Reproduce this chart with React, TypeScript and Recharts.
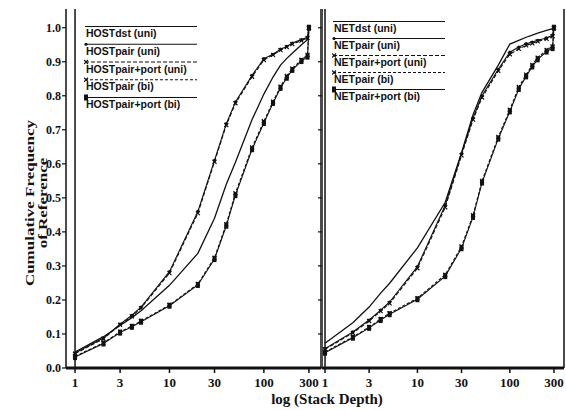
import { LineChart, Line, XAxis, YAxis, ReferenceLine, Legend } from "recharts";

// stack depths sampled on both panels
const DEPTHS = [1, 2, 3, 4, 5, 10, 20, 30, 40, 50, 75, 100, 125, 150, 175, 200, 250, 290, 300];
const X_TICKS = [1, 3, 10, 30, 100, 300];
const Y_TICKS = [0, 0.1, 0.2, 0.3, 0.4, 0.5, 0.6, 0.7, 0.8, 0.9, 1.0];
const Y_TITLE = ["Cumulative Frequency", "of Reference"];

const HOST_NAMES = ["HOSTdst (uni)", "HOSTpair (uni)", "HOSTpair+port (uni)", "HOSTpair (bi)", "HOSTpair+port (bi)"];
const NET_NAMES = ["NETdst (uni)", "NETpair (uni)", "NETpair+port (uni)", "NETpair (bi)", "NETpair+port (bi)"];

const hostDstUni = [0.047, 0.092, 0.125, 0.148, 0.168, 0.243, 0.337, 0.44, 0.54, 0.605, 0.73, 0.805, 0.855, 0.89, 0.91, 0.925, 0.95, 0.965, 1.0];
const hostPairUni = [0.044, 0.088, 0.129, 0.155, 0.179, 0.283, 0.46, 0.61, 0.718, 0.782, 0.86, 0.909, 0.922, 0.937, 0.945, 0.955, 0.965, 0.972, 1.0];
const hostPairPortUni = [0.042, 0.086, 0.127, 0.152, 0.176, 0.279, 0.455, 0.606, 0.714, 0.778, 0.856, 0.905, 0.92, 0.934, 0.943, 0.952, 0.962, 0.97, 1.0];
const hostPairBi = [0.034, 0.074, 0.106, 0.123, 0.138, 0.185, 0.247, 0.324, 0.423, 0.514, 0.648, 0.725, 0.783, 0.827, 0.858, 0.88, 0.906, 0.92, 1.0];
const hostPairPortBi = [0.032, 0.072, 0.104, 0.121, 0.136, 0.183, 0.244, 0.32, 0.418, 0.508, 0.643, 0.72, 0.779, 0.823, 0.853, 0.876, 0.902, 0.915, 1.0];

const netDstUni = [0.073, 0.133, 0.179, 0.22, 0.249, 0.353, 0.487, 0.633, 0.744, 0.81, 0.89, 0.952, 0.963, 0.972, 0.978, 0.984, 0.992, 0.997, 1.0];
const netPairUni = [0.057, 0.106, 0.141, 0.17, 0.194, 0.298, 0.478, 0.63, 0.735, 0.8, 0.878, 0.928, 0.943, 0.953, 0.958, 0.963, 0.97, 0.978, 1.0];
const netPairPortUni = [0.055, 0.103, 0.138, 0.167, 0.19, 0.293, 0.472, 0.625, 0.73, 0.795, 0.873, 0.922, 0.938, 0.948, 0.954, 0.96, 0.967, 0.975, 1.0];
const netPairBi = [0.047, 0.091, 0.12, 0.144, 0.161, 0.205, 0.274, 0.357, 0.449, 0.55, 0.679, 0.759, 0.826, 0.862, 0.891, 0.912, 0.935, 0.945, 1.0];
const netPairPortBi = [0.045, 0.089, 0.118, 0.141, 0.158, 0.202, 0.27, 0.352, 0.444, 0.545, 0.674, 0.754, 0.82, 0.857, 0.886, 0.907, 0.93, 0.94, 1.0];

const INK = "#111";
const SERIF = "'Liberation Serif', 'DejaVu Serif', serif";
const SANS = "'Liberation Sans', Arial, sans-serif";

type Kind = "none" | "dot" | "cross" | "square";
const STYLES: { dash?: string; width: number; marker: Kind }[] = [
  { width: 1.3, marker: "none" },
  { width: 1.1, marker: "dot" },
  { dash: "4 2", width: 1.1, marker: "cross" },
  { dash: "3 2", width: 1.1, marker: "cross" },
  { width: 1.1, marker: "square" },
];

const buildRows = (series: number[][]) =>
  DEPTHS.map((d, i) => {
    const row: Record<string, number> = { lx: Math.log10(d) };
    series.forEach((s, k) => (row["s" + k] = s[i]));
    return row;
  });

function Marker({ kind, cx, cy }: { kind: Kind; cx?: number; cy?: number }) {
  if (cx == null || cy == null) return null;
  if (kind === "dot") return <circle cx={cx} cy={cy} r={1.6} fill={INK} />;
  if (kind === "cross")
    return (
      <path
        d={`M${cx - 2},${cy - 2}L${cx + 2},${cy + 2}M${cx + 2},${cy - 2}L${cx - 2},${cy + 2}`}
        stroke={INK}
        strokeWidth={1.2}
      />
    );
  if (kind === "square") return <rect x={cx - 2} y={cy - 3} width={4} height={6} fill={INK} />;
  return null;
}

function LegendBox({ names, gap }: { names: string[]; gap: number }) {
  return (
    <svg width={118} height={gap * 5 + 4}>
      {names.map((n, i) => {
        const y = 1.5 + i * gap;
        return (
          <g key={n}>
            <line x1={1} x2={113} y1={y} y2={y} stroke={INK} strokeWidth={1.2} strokeDasharray={STYLES[i].dash} />
            <Marker kind={STYLES[i].marker} cx={2} cy={y} />
            <text x={2} y={y + 10.5} fontFamily={SANS} fontWeight={700} fontSize={10.5} fill={INK}>
              {n}
            </text>
          </g>
        );
      })}
    </svg>
  );
}

interface PanelProps {
  names: string[];
  series: number[][];
  left: number;
  width: number;
  yWidth: number;
  showY: boolean;
  domain: [number, number];
  legendLeft: number;
  legendTop: number;
  legendGap: number;
}

function Panel({ names, series, left, width, yWidth, showY, domain, legendLeft, legendTop, legendGap }: PanelProps) {
  const data = buildRows(series);
  const xTicks = X_TICKS.map((t) => Math.log10(t));
  return (
    <div style={{ position: "absolute", left, top: 0 }}>
      <LineChart width={width} height={410} data={data} margin={{ top: 9, right: showY ? 0 : 2, left: 0, bottom: 0 }}>
        <XAxis
          dataKey="lx"
          type="number"
          domain={domain}
          ticks={xTicks}
          interval={0}
          allowDataOverflow
          tickFormatter={(v: number) => String(Math.round(Math.pow(10, v)))}
          height={42}
          tickSize={5}
          tickMargin={5}
          axisLine={{ stroke: INK, strokeWidth: 3 }}
          tickLine={{ stroke: INK, strokeWidth: 1.5 }}
          tick={{ fill: INK, fontSize: 13, fontWeight: 700, fontFamily: SERIF }}
        />
        <XAxis
          xAxisId="top"
          orientation="top"
          dataKey="lx"
          type="number"
          domain={domain}
          ticks={xTicks}
          interval={0}
          allowDataOverflow
          tickFormatter={() => ""}
          height={0}
          mirror
          tickSize={4}
          axisLine={{ stroke: INK, strokeWidth: 1.5 }}
          tickLine={{ stroke: INK }}
        />
        <YAxis
          type="number"
          domain={[0, 1.055]}
          ticks={Y_TICKS}
          interval={0}
          allowDataOverflow
          width={yWidth}
          tickSize={4}
          tickMargin={1}
          tickFormatter={(v: number) => (showY ? v.toFixed(1) : "")}
          axisLine={{ stroke: INK, strokeWidth: 1.5 }}
          tickLine={{ stroke: INK, strokeWidth: 1.2 }}
          tick={{ fill: INK, fontSize: 12, fontWeight: 700, fontFamily: SERIF }}
        />
        <YAxis
          yAxisId="right"
          orientation="right"
          type="number"
          domain={[0, 1.055]}
          ticks={Y_TICKS}
          interval={0}
          width={1}
          mirror
          tickSize={4}
          tickFormatter={() => ""}
          axisLine={{ stroke: INK, strokeWidth: 1.5 }}
          tickLine={{ stroke: INK }}
        />
        <ReferenceLine x={0} stroke={INK} strokeWidth={1.5} />
        <Legend
          layout="vertical"
          align="center"
          verticalAlign="middle"
          wrapperStyle={{ left: legendLeft, top: legendTop, width: 118, height: legendGap * 5 + 4 }}
          content={() => <LegendBox names={names} gap={legendGap} />}
        />
        {series.map((_, k) => (
          <Line
            key={names[k]}
            dataKey={"s" + k}
            name={names[k]}
            type="linear"
            stroke={INK}
            strokeWidth={STYLES[k].width}
            strokeDasharray={STYLES[k].dash}
            dot={
              STYLES[k].marker === "none"
                ? false
                : (p: any) => <Marker key={p.index} kind={STYLES[k].marker} cx={p.cx} cy={p.cy} />
            }
            activeDot={false}
            isAnimationActive={false}
          />
        ))}
      </LineChart>
    </div>
  );
}

export default function App() {
  return (
    <div style={{ position: "absolute", left: 0, top: 0, width: 566, height: 410, background: "#fff", overflow: "hidden" }}>
      <Panel
        names={HOST_NAMES}
        series={[hostDstUni, hostPairUni, hostPairPortUni, hostPairBi, hostPairPortBi]}
        left={0}
        width={321}
        yWidth={66}
        showY
        domain={[-0.0957, 2.605]}
        legendLeft={84}
        legendTop={25}
        legendGap={17.75}
      />
      <Panel
        names={NET_NAMES}
        series={[netDstUni, netPairUni, netPairPortUni, netPairBi, netPairPortBi]}
        left={311}
        width={255}
        yWidth={11}
        showY={false}
        domain={[-0.0326, 2.586]}
        legendLeft={21}
        legendTop={20}
        legendGap={17}
      />
      <div
        style={{
          position: "absolute",
          left: 227,
          top: 390,
          width: 200,
          textAlign: "center",
          fontFamily: SERIF,
          fontWeight: 700,
          fontSize: 15,
          lineHeight: "18px",
          color: INK,
        }}
      >
        log (Stack Depth)
      </div>
      <svg style={{ position: "absolute", left: 0, top: 0 }} width={60} height={410}>
        {Y_TITLE.map((t, i) => (
          <text
            key={t}
            transform={`translate(${34 + i * 13}, 203) rotate(-90) scale(1, 0.72)`}
            textAnchor="middle"
            fontFamily={SERIF}
            fontWeight={700}
            fontSize={17}
            fill={INK}
          >
            {t}
          </text>
        ))}
      </svg>
    </div>
  );
}
